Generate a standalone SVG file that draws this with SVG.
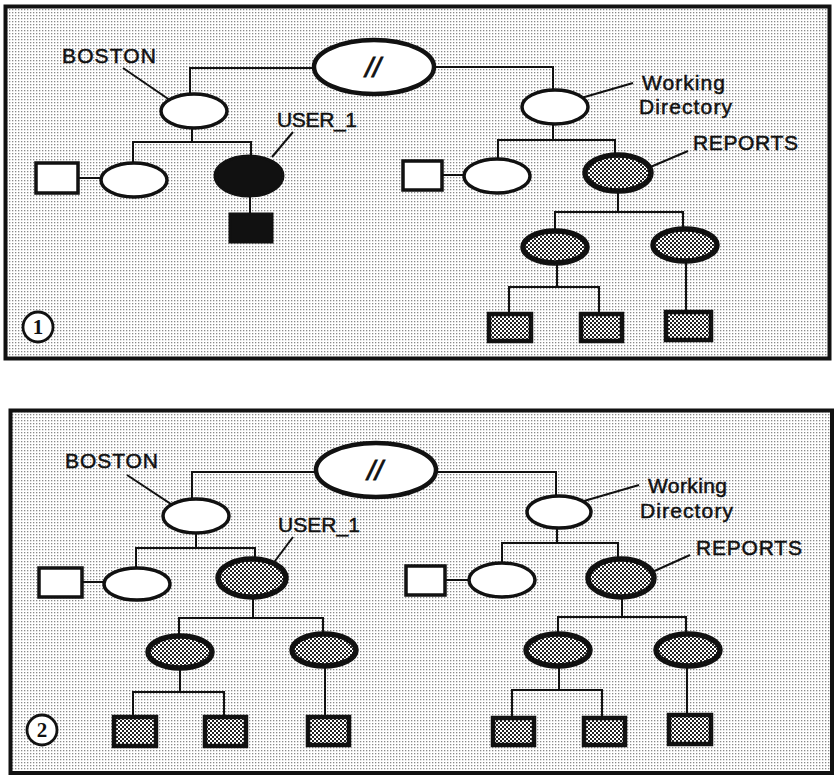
<svg xmlns="http://www.w3.org/2000/svg" width="836" height="776" viewBox="0 0 836 776">
<defs>
<pattern id="bg" width="3" height="3" patternUnits="userSpaceOnUse">
<rect width="3" height="3" fill="#ffffff"/>
<rect x="0" y="0" width="1.3" height="1.3" fill="#8a8a8a"/>
</pattern>
<pattern id="shade" width="4" height="4" patternUnits="userSpaceOnUse">
<rect width="4" height="4" fill="#ffffff"/>
<rect x="0" y="0" width="2" height="2" fill="#222"/>
<rect x="2" y="2" width="2" height="2" fill="#222"/>
</pattern>
</defs>
<style>
.panel{fill:url(#bg);stroke:#111;stroke-width:4}
.wd{fill:#fff;stroke:#111;stroke-width:3.5}
.root{fill:#fff;stroke:#111;stroke-width:4.5}
.sh{fill:url(#shade);stroke:#111;stroke-width:5.5}
.blk{fill:#111;stroke:#111;stroke-width:3}
.wf{fill:#fff;stroke:#111;stroke-width:3.5}
.sf{fill:url(#shade);stroke:#111;stroke-width:4.5}
.ln{fill:none;stroke:#111;stroke-width:2}
.lbl{font-family:"Liberation Sans",Arial,sans-serif;font-size:21px;fill:#111;stroke:#111;stroke-width:0.5}
.num{font-family:"Liberation Serif","Times New Roman",serif;font-size:21px;font-weight:bold;fill:#111}
.sl{font-family:"Liberation Sans",Arial,sans-serif;font-size:28px;font-style:italic;fill:#111;stroke:#111;stroke-width:0.8}
.circ{fill:#fff;stroke:#111;stroke-width:2.8}
</style>

<rect class="panel" x="5.5" y="6.5" width="824" height="352"/>
<rect class="panel" x="10.5" y="410.5" width="821.5" height="362.5"/>

<g id="connectors">
<!-- panel 1 -->
<polyline class="ln" points="313,68 190,68 190,94"/>
<polyline class="ln" points="434,67 553,67 553,91"/>
<polyline class="ln" points="192,128 192,142"/>
<polyline class="ln" points="133,163 133,142 251,142 251,156"/>
<line class="ln" x1="78" y1="178" x2="101" y2="178"/>
<line class="ln" x1="250" y1="197" x2="250" y2="213"/>
<polyline class="ln" points="553,124 553,140"/>
<polyline class="ln" points="498,159 498,140 615,140 615,154"/>
<line class="ln" x1="442" y1="175" x2="464" y2="175"/>
<line class="ln" x1="618" y1="192" x2="618" y2="212"/>
<polyline class="ln" points="555,230 555,212 683,212 683,228"/>
<line class="ln" x1="557" y1="263" x2="557" y2="287"/>
<polyline class="ln" points="509,313 509,287 599,287 599,313"/>
<line class="ln" x1="686" y1="262" x2="686" y2="311"/>
<!-- leaders panel 1 -->
<line class="ln" x1="123" y1="68" x2="180" y2="107"/>
<line class="ln" x1="293" y1="132" x2="272" y2="157"/>
<line class="ln" x1="557" y1="105" x2="633" y2="83"/>
<line class="ln" x1="688" y1="151" x2="627" y2="177"/>
<!-- panel 2 -->
<polyline class="ln" points="315,472 192,472 192,498"/>
<polyline class="ln" points="435,472 556,472 556,495"/>
<line class="ln" x1="196" y1="533" x2="196" y2="548"/>
<polyline class="ln" points="136,568 136,548 255,548 255,558"/>
<line class="ln" x1="82" y1="582" x2="103" y2="582"/>
<line class="ln" x1="253" y1="597" x2="253" y2="618"/>
<polyline class="ln" points="179,635 179,618 323,618 323,633"/>
<line class="ln" x1="180" y1="670" x2="180" y2="692"/>
<polyline class="ln" points="133,716 133,692 224,692 224,716"/>
<line class="ln" x1="325" y1="668" x2="325" y2="716"/>
<line class="ln" x1="557" y1="528" x2="557" y2="543"/>
<polyline class="ln" points="502,563 502,543 618,543 618,558"/>
<line class="ln" x1="445" y1="580" x2="468" y2="580"/>
<line class="ln" x1="622" y1="598" x2="622" y2="617"/>
<polyline class="ln" points="558,633 558,617 686,617 686,633"/>
<line class="ln" x1="559" y1="668" x2="559" y2="690"/>
<polyline class="ln" points="512,717 512,690 602,690 602,717"/>
<line class="ln" x1="687" y1="667" x2="687" y2="714"/>
<!-- leaders panel 2 -->
<line class="ln" x1="127" y1="475" x2="183" y2="512"/>
<line class="ln" x1="293" y1="537" x2="263" y2="577"/>
<line class="ln" x1="560" y1="508" x2="639" y2="485"/>
<line class="ln" x1="690" y1="555" x2="630" y2="582"/>
</g>

<!-- ===== Panel 1 nodes ===== -->
<g id="p1-root"><ellipse class="root" cx="374" cy="67" rx="60" ry="27"/><text class="sl" x="373" y="77" text-anchor="middle">//</text></g>
<g id="p1-boston"><ellipse class="wd" cx="194" cy="111" rx="33" ry="17"/></g>
<g id="p1-boston-label"><text class="lbl" x="62" y="63" textLength="94" lengthAdjust="spacing">BOSTON</text></g>
<g id="p1-sq-a"><rect class="wf" x="36" y="163" width="42" height="30"/></g>
<g id="p1-dir-a"><ellipse class="wd" cx="134" cy="180" rx="33" ry="17"/></g>
<g id="p1-user1"><ellipse class="blk" cx="249" cy="176" rx="34" ry="20"/></g>
<g id="p1-user1-label"><text class="lbl" x="277" y="127" textLength="80" lengthAdjust="spacing">USER_1</text></g>
<g id="p1-user1-file"><rect class="blk" x="230" y="214" width="42" height="28"/></g>
<g id="p1-num"><circle class="circ" cx="38" cy="327" r="15"/><text class="num" x="38" y="334" text-anchor="middle">1</text></g>
<g id="p1-wd"><ellipse class="wd" cx="555" cy="107" rx="33" ry="17"/></g>
<g id="p1-wd-label"><text class="lbl" x="642" y="90" textLength="83" lengthAdjust="spacing">Working</text><text class="lbl" x="639" y="114" textLength="93" lengthAdjust="spacing">Directory</text></g>
<g id="p1-sq-b"><rect class="wf" x="403" y="161" width="39" height="29"/></g>
<g id="p1-dir-b"><ellipse class="wd" cx="497" cy="176" rx="33" ry="17"/></g>
<g id="p1-reports"><ellipse class="sh" cx="618" cy="173" rx="33" ry="18"/></g>
<g id="p1-reports-label"><text class="lbl" x="693" y="150" textLength="105" lengthAdjust="spacing">REPORTS</text></g>
<g id="p1-rep-a"><ellipse class="sh" cx="555" cy="247" rx="32" ry="16"/></g>
<g id="p1-rep-b"><ellipse class="sh" cx="685" cy="245" rx="32" ry="16"/></g>
<g id="p1-f1"><rect class="sf" x="489" y="314" width="42" height="27"/></g>
<g id="p1-f2"><rect class="sf" x="581" y="314" width="41" height="27"/></g>
<g id="p1-f3"><rect class="sf" x="666" y="312" width="45" height="28"/></g>

<!-- ===== Panel 2 nodes ===== -->
<g id="p2-root"><ellipse class="root" cx="376" cy="470" rx="60" ry="27"/><text class="sl" x="375" y="480" text-anchor="middle">//</text></g>
<g id="p2-boston"><ellipse class="wd" cx="196" cy="516" rx="33" ry="17"/></g>
<g id="p2-boston-label"><text class="lbl" x="65" y="468" textLength="93" lengthAdjust="spacing">BOSTON</text></g>
<g id="p2-sq-a"><rect class="wf" x="39" y="568" width="43" height="29"/></g>
<g id="p2-dir-a"><ellipse class="wd" cx="137" cy="584" rx="33" ry="16"/></g>
<g id="p2-user1"><ellipse class="sh" cx="252" cy="578" rx="34" ry="19"/></g>
<g id="p2-user1-label"><text class="lbl" x="278" y="532" textLength="82" lengthAdjust="spacing">USER_1</text></g>
<g id="p2-u-a"><ellipse class="sh" cx="180" cy="652" rx="32" ry="16"/></g>
<g id="p2-u-b"><ellipse class="sh" cx="324" cy="650" rx="32" ry="16"/></g>
<g id="p2-uf1"><rect class="sf" x="114" y="717" width="42" height="29"/></g>
<g id="p2-uf2"><rect class="sf" x="205" y="717" width="41" height="29"/></g>
<g id="p2-uf3"><rect class="sf" x="308" y="717" width="41" height="28"/></g>
<g id="p2-num"><circle class="circ" cx="42" cy="730" r="15"/><text class="num" x="42" y="737" text-anchor="middle">2</text></g>
<g id="p2-wd"><ellipse class="wd" cx="559" cy="512" rx="32" ry="16"/></g>
<g id="p2-wd-label"><text class="lbl" x="648" y="493" textLength="79" lengthAdjust="spacing">Working</text><text class="lbl" x="640" y="518" textLength="93" lengthAdjust="spacing">Directory</text></g>
<g id="p2-sq-b"><rect class="wf" x="406" y="566" width="39" height="29"/></g>
<g id="p2-dir-b"><ellipse class="wd" cx="502" cy="580" rx="33" ry="17"/></g>
<g id="p2-reports"><ellipse class="sh" cx="621" cy="578" rx="33" ry="19"/></g>
<g id="p2-reports-label"><text class="lbl" x="696" y="555" textLength="106" lengthAdjust="spacing">REPORTS</text></g>
<g id="p2-rep-a"><ellipse class="sh" cx="558" cy="650" rx="32" ry="16"/></g>
<g id="p2-rep-b"><ellipse class="sh" cx="688" cy="650" rx="32" ry="16"/></g>
<g id="p2-f1"><rect class="sf" x="493" y="718" width="41" height="27"/></g>
<g id="p2-f2"><rect class="sf" x="584" y="718" width="41" height="27"/></g>
<g id="p2-f3"><rect class="sf" x="669" y="715" width="42" height="29"/></g>
</svg>
